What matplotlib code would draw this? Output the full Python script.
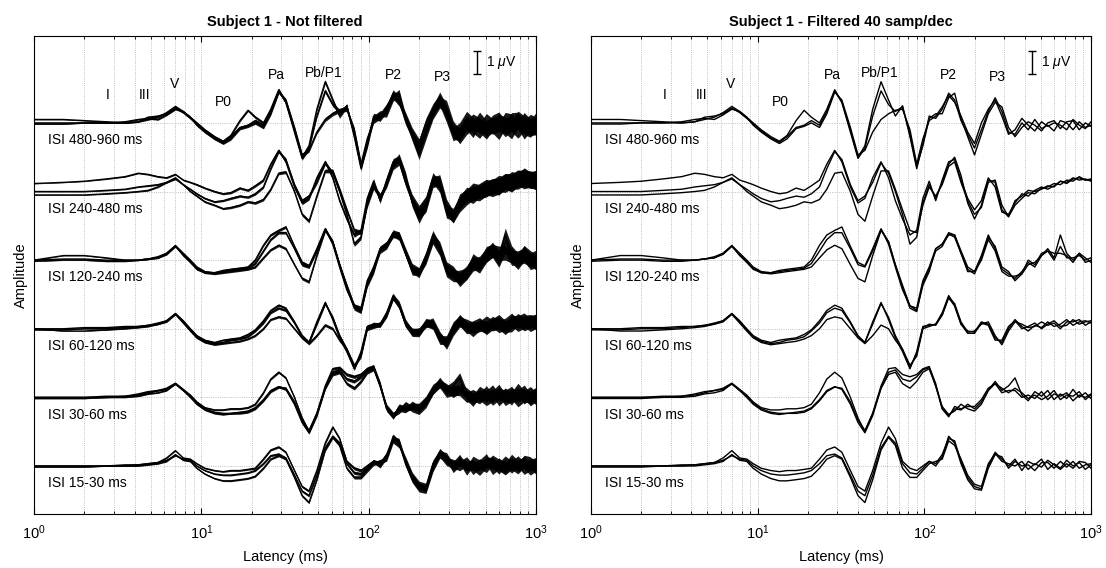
"""
Stacked evoked-response traces for six ISI conditions, raw and filtered
"""

import numpy as np
import matplotlib
matplotlib.use('Agg')
import matplotlib.pyplot as plt
from matplotlib.ticker import LogLocator, NullFormatter

plt.rcParams['font.family'] = ['Liberation Sans', 'DejaVu Sans']
plt.rcParams['mathtext.fontset'] = 'custom'
plt.rcParams['mathtext.rm'] = 'Liberation Sans'
plt.rcParams['mathtext.it'] = 'Liberation Sans:italic'

# Latency samples (ms) shared by every trace
LATENCY = [1.0, 1.5, 2.0, 2.7, 3.5, 4.2, 4.8, 5.5, 6.2, 7.0,
           7.8, 8.6, 9.4, 10.5, 12, 13.5, 15, 17, 19, 21,
           23.5, 26, 29, 32, 36, 40, 44, 49, 55, 61,
           67, 74, 82, 90, 98, 107, 117, 128, 140, 152,
           166, 182, 200, 220, 242, 266, 292, 320, 350, 385,
           420, 460, 505, 550, 600, 655, 715, 780, 850, 925,
           1000]

ISI_LABELS = ['ISI 480-960 ms', 'ISI 240-480 ms', 'ISI 120-240 ms',
              'ISI 60-120 ms', 'ISI 30-60 ms', 'ISI 15-30 ms']

# Amplitudes (uV) of the three overlaid responses per condition
ISI_480_960 = [
    [0.15, 0.15, 0.1, 0.05, 0.0, 0.05, 0.15, 0.25, 0.45, 0.72,
     0.5, 0.25, 0.0, -0.3, -0.6, -0.8, -0.55, 0.1, 0.55, 0.25,
     0.0, 0.6, 1.45, 0.9, -0.3, -1.5, -1.0, 0.6, 1.8, 1.0,
     0.3, 0.75, -0.6, -2.0, -0.9, 0.3, 0.2, 0.6, 1.3, 1.0,
     0.1, -0.5, -1.1, -0.3, 0.5, 1.1, 0.5, -0.4, -0.5, 0.0,
     -0.3, 0.15, -0.25, -0.1, -0.35, 0.1, 0.0, -0.3, 0.05, -0.2,
     -0.1],
    [0.0, 0.0, 0.0, 0.0, 0.0, 0.05, 0.25, 0.3, 0.4, 0.65,
     0.45, 0.2, -0.05, -0.35, -0.65, -0.85, -0.6, -0.2, -0.1, 0.1,
     -0.1, 0.5, 1.4, 0.9, -0.4, -1.55, -1.1, 0.3, 1.4, 0.8,
     0.5, 0.7, -0.5, -1.9, -1.0, 0.2, 0.4, 0.4, 1.1, 1.3,
     0.2, -0.6, -1.4, -0.5, 0.4, 0.9, 0.7, -0.2, -0.6, -0.2,
     0.05, -0.1, -0.35, 0.0, 0.1, -0.25, 0.05, 0.1, -0.3, 0.0,
     -0.15],
    [-0.05, -0.05, 0.0, 0.0, 0.05, 0.15, 0.2, 0.15, 0.35, 0.6,
     0.5, 0.25, -0.1, -0.4, -0.7, -0.9, -0.7, -0.25, -0.15, 0.0,
     -0.2, 0.4, 1.35, 1.0, -0.2, -1.4, -1.2, -0.4, 0.15, 0.4,
     0.55, 0.6, -0.3, -1.8, -0.7, 0.1, 0.3, 0.7, 1.2, 0.9,
     0.3, -0.4, -0.9, 0.0, 0.6, 1.0, 0.3, -0.5, -0.3, 0.2,
     -0.1, -0.35, 0.05, -0.15, 0.0, -0.1, -0.3, 0.15, -0.1, -0.25,
     0.05],
]

ISI_240_480 = [
    [0.35, 0.4, 0.45, 0.55, 0.65, 0.8, 0.75, 0.65, 0.6, 0.75,
     0.5, 0.4, 0.3, 0.15, 0.0, -0.1, -0.05, 0.15, 0.05, 0.25,
     0.5, 1.2, 1.8, 1.3, 0.2, -0.5, -0.3, 0.6, 1.3, 0.6,
     -0.4, -1.2, -1.9, -1.7, -0.3, 0.45, -0.4, 0.5, 1.3, 1.4,
     0.5, -0.3, -0.8, -0.4, 0.6, 0.2, -0.9, -1.0, -0.5, -0.1,
     -0.2, 0.05, 0.2, 0.1, 0.25, 0.45, 0.35, 0.55, 0.6, 0.5,
     0.55],
    [0.0, 0.0, 0.0, 0.05, 0.1, 0.2, 0.25, 0.3, 0.4, 0.55,
     0.3, 0.1, -0.1, -0.3, -0.45, -0.4, -0.3, -0.2, -0.25, -0.1,
     0.2, 1.0, 1.75, 1.4, 0.3, -0.4, -0.2, 0.4, 1.25, 0.8,
     0.0, -1.0, -2.3, -2.0, -0.5, 0.3, -0.3, 0.4, 1.2, 1.5,
     0.7, -0.5, -1.2, -0.6, 0.5, 0.4, -0.8, -1.1, -0.6, -0.3,
     -0.05, -0.1, 0.15, 0.2, 0.35, 0.3, 0.5, 0.45, 0.65, 0.5,
     0.5],
    [-0.15, -0.15, -0.15, -0.1, -0.05, 0.0, 0.05, 0.2, 0.4, 0.6,
     0.3, 0.0, -0.2, -0.45, -0.6, -0.75, -0.7, -0.6, -0.45, -0.5,
     -0.35, 0.1, 0.8, 0.85, 0.0, -1.0, -1.3, -0.2, 0.9, 0.9,
     0.1, -0.8, -1.7, -1.8, -0.6, 0.2, -0.2, 0.3, 1.1, 1.3,
     0.4, -0.4, -1.0, -0.7, 0.4, 0.5, -0.6, -1.1, -0.4, -0.2,
     0.05, 0.0, 0.1, 0.25, 0.2, 0.45, 0.4, 0.6, 0.5, 0.55,
     0.45],
]

ISI_120_240 = [
    [0.0, 0.2, 0.2, 0.1, 0.0, 0.0, 0.05, 0.15, 0.3, 0.64,
     0.3, 0.0, -0.3, -0.5, -0.55, -0.45, -0.4, -0.35, -0.3, 0.0,
     0.65, 1.1, 1.3, 1.45, 0.6, -0.1, -0.25, 0.5, 1.37, 0.7,
     -0.3, -1.3, -2.0, -2.1, -0.9, -0.3, 0.5, 0.7, 1.1, 1.1,
     0.4, -0.3, -0.5, 0.2, 1.1, 0.5, -0.4, -0.6, -0.8, -0.5,
     -0.1, -0.3, 0.2, 0.5, 0.1, 1.1, 0.3, 0.0, 0.3, -0.1,
     0.0],
    [0.0, 0.05, 0.05, 0.0, 0.0, 0.0, 0.05, 0.1, 0.25, 0.6,
     0.25, -0.05, -0.35, -0.55, -0.55, -0.5, -0.45, -0.4, -0.35, -0.15,
     0.4, 0.9, 1.2, 1.2, 0.5, -0.2, -0.3, 0.4, 1.35, 0.8,
     -0.2, -1.2, -2.1, -2.25, -1.0, -0.4, 0.4, 0.6, 1.15, 1.0,
     0.3, -0.4, -0.6, 0.1, 1.0, 0.6, -0.3, -0.5, -0.9, -0.6,
     0.0, -0.2, 0.3, 0.4, 0.0, 0.6, 0.1, 0.1, 0.2, 0.0,
     0.1],
    [-0.05, 0.0, 0.0, -0.05, -0.05, 0.0, 0.05, 0.1, 0.3, 0.62,
     0.2, -0.1, -0.4, -0.55, -0.6, -0.55, -0.5, -0.45, -0.4, -0.3,
     0.1, 0.45, 0.65, 0.5, -0.2, -0.8, -0.95, 0.2, 1.3, 0.8,
     -0.2, -1.1, -2.0, -2.2, -1.1, -0.5, 0.5, 0.7, 1.2, 1.1,
     0.3, -0.5, -0.5, 0.0, 0.9, 0.4, -0.5, -0.7, -0.7, -0.6,
     -0.2, -0.1, 0.2, 0.4, 0.3, 0.3, 0.2, -0.1, 0.3, 0.1,
     -0.1],
]

ISI_60_120 = [
    [0.0, 0.0, 0.05, 0.05, 0.1, 0.1, 0.15, 0.2, 0.35, 0.67,
     0.35, 0.0, -0.3, -0.5, -0.6, -0.5, -0.45, -0.4, -0.25, -0.05,
     0.35, 0.8, 1.03, 0.9, 0.3, -0.3, -0.6, 0.3, 1.15, 0.4,
     -0.4, -1.0, -1.75, -1.0, 0.1, 0.15, 0.2, 0.7, 1.45, 1.0,
     0.2, -0.1, -0.15, 0.3, 0.2, -0.4, -0.6, 0.0, 0.4, 0.1,
     -0.1, 0.15, 0.05, 0.3, 0.1, 0.2, 0.4, 0.15, 0.3, 0.35,
     0.25],
    [-0.05, -0.05, 0.0, 0.0, 0.05, 0.1, 0.15, 0.25, 0.35, 0.65,
     0.3, -0.05, -0.35, -0.55, -0.65, -0.6, -0.5, -0.45, -0.35, -0.1,
     0.25, 0.7, 0.9, 0.8, 0.25, -0.35, -0.6, 0.2, 1.1, 0.5,
     -0.3, -0.9, -1.7, -1.1, 0.05, 0.2, 0.15, 0.6, 1.4, 1.1,
     0.3, -0.15, -0.1, 0.2, 0.3, -0.3, -0.7, -0.1, 0.3, 0.2,
     0.05, 0.1, 0.3, 0.15, 0.25, 0.0, 0.3, 0.3, 0.4, 0.15,
     0.3],
    [0.0, -0.1, -0.1, -0.05, 0.0, 0.05, 0.1, 0.2, 0.3, 0.63,
     0.25, -0.1, -0.4, -0.6, -0.7, -0.65, -0.6, -0.55, -0.45, -0.3,
     0.0, 0.4, 0.52, 0.45, 0.0, -0.4, -0.65, -0.3, 0.16, 0.0,
     -0.5, -0.9, -1.6, -1.2, 0.0, 0.1, 0.2, 0.6, 1.35, 1.0,
     0.2, -0.2, -0.2, 0.25, 0.15, -0.5, -0.5, 0.1, 0.35, 0.0,
     0.1, 0.25, 0.0, 0.2, 0.35, 0.1, 0.15, 0.4, 0.2, 0.3,
     0.35],
]

ISI_30_60 = [
    [0.0, 0.0, 0.0, 0.05, 0.05, 0.15, 0.25, 0.3, 0.4, 0.62,
     0.35, 0.1, -0.2, -0.45, -0.55, -0.55, -0.5, -0.5, -0.45, -0.3,
     0.2, 0.8, 1.1, 0.85, 0.0, -0.9, -1.5, -0.7, 0.5, 1.25,
     1.3, 1.0, 0.9, 1.0, 1.25, 1.35, 0.6, -0.5, -0.8, -0.5,
     -0.55, -0.3, -0.5, -0.2, 0.3, 0.7, 0.3, 0.5, 0.85, 0.1,
     -0.15, 0.25, 0.05, 0.3, -0.1, 0.15, -0.05, 0.35, 0.0, 0.2,
     -0.05],
    [0.0, 0.0, 0.0, 0.0, 0.05, 0.1, 0.2, 0.3, 0.35, 0.58,
     0.3, 0.0, -0.3, -0.55, -0.7, -0.75, -0.7, -0.65, -0.6, -0.45,
     -0.1, 0.3, 0.47, 0.35, -0.3, -1.1, -1.55, -0.8, 0.4, 1.1,
     1.2, 0.8, 0.7, 0.9, 1.2, 1.3, 0.5, -0.5, -0.85, -0.4,
     -0.5, -0.4, -0.4, -0.1, 0.4, 0.6, 0.2, 0.3, 0.3, 0.0,
     0.1, -0.05, 0.25, -0.1, 0.15, 0.05, 0.2, -0.15, 0.1, 0.0,
     0.15],
    [-0.05, -0.05, -0.05, 0.0, 0.0, 0.05, 0.15, 0.2, 0.3, 0.6,
     0.3, 0.05, -0.25, -0.5, -0.65, -0.7, -0.7, -0.7, -0.65, -0.5,
     -0.15, 0.25, 0.45, 0.4, -0.2, -1.0, -1.45, -0.7, 0.4, 1.0,
     1.1, 0.6, 0.4, 0.7, 1.1, 1.25, 0.5, -0.4, -0.75, -0.6,
     -0.3, -0.5, -0.6, -0.3, 0.3, 0.6, 0.4, 0.2, 0.4, 0.2,
     -0.05, 0.1, -0.1, 0.05, 0.3, -0.1, 0.1, 0.05, 0.25, -0.1,
     0.1],
]

ISI_15_30 = [
    [0.0, 0.0, 0.0, 0.0, 0.05, 0.05, 0.1, 0.15, 0.35, 0.67,
     0.35, 0.3, 0.1, -0.1, -0.2, -0.25, -0.2, -0.2, -0.15, -0.1,
     0.3, 0.7, 0.83, 0.6, -0.2, -0.9, -1.1, -0.2, 1.0, 1.7,
     1.2, 0.2, -0.1, -0.2, 0.0, 0.2, 0.1, 0.5, 1.2, 1.1,
     0.2, -0.5, -0.9, -1.0, 0.0, 0.6, 0.3, 0.0, 0.3, -0.2,
     0.2, 0.05, 0.3, -0.15, 0.1, -0.1, 0.25, 0.0, 0.15, -0.15,
     0.05],
    [0.0, 0.0, 0.0, 0.0, 0.0, 0.05, 0.1, 0.15, 0.25, 0.45,
     0.3, 0.25, 0.0, -0.2, -0.35, -0.4, -0.4, -0.35, -0.3, -0.2,
     0.1, 0.45, 0.52, 0.35, -0.4, -1.1, -1.3, -0.4, 0.8, 1.3,
     1.0, 0.1, -0.3, -0.35, -0.1, 0.2, 0.0, 0.4, 1.3, 1.0,
     0.1, -0.6, -1.0, -1.06, -0.1, 0.5, 0.4, -0.1, 0.2, 0.0,
     0.05, -0.2, 0.15, 0.15, -0.1, 0.2, -0.05, 0.2, -0.1, 0.05,
     0.1],
    [-0.05, -0.05, -0.05, 0.0, 0.0, 0.0, 0.05, 0.1, 0.2, 0.5,
     0.25, 0.2, -0.1, -0.35, -0.55, -0.65, -0.65, -0.6, -0.55, -0.45,
     -0.1, 0.3, 0.45, 0.3, -0.5, -1.3, -1.6, -0.6, 0.7, 1.25,
     0.9, -0.1, -0.5, -0.5, -0.2, 0.1, 0.2, 0.3, 1.1, 0.9,
     0.3, -0.4, -0.8, -0.9, 0.1, 0.55, 0.2, 0.1, 0.0, 0.2,
     -0.15, 0.1, -0.05, 0.25, 0.05, -0.15, 0.1, -0.1, 0.2, 0.15,
     -0.1],
]

TRACES = [ISI_480_960, ISI_240_480, ISI_120_240, ISI_60_120, ISI_30_60, ISI_15_30]

# Half-width (uV) of the residual noise in the unfiltered averages
NOISE_ENVELOPE = [0.02, 0.02, 0.02, 0.03, 0.03, 0.03, 0.04, 0.04, 0.04, 0.04,
                  0.04, 0.04, 0.05, 0.05, 0.05, 0.05, 0.06, 0.06, 0.06, 0.07,
                  0.07, 0.07, 0.08, 0.08, 0.08, 0.09, 0.09, 0.09, 0.10, 0.10,
                  0.11, 0.11, 0.12, 0.12, 0.13, 0.14, 0.15, 0.16, 0.17, 0.18,
                  0.19, 0.21, 0.23, 0.24, 0.27, 0.28, 0.31, 0.32, 0.35, 0.34,
                  0.38, 0.36, 0.40, 0.38, 0.42, 0.40, 0.44, 0.41, 0.45, 0.42,
                  0.45]
NOISE_SCALE = [0.9, 0.85, 0.75, 0.65, 0.65, 0.6]

# Peak names and their latencies (ms)
PEAK_NAMES = ['I', 'III', 'V', 'P0', 'Pa', 'Pb/P1', 'P2', 'P3']
PEAK_LATENCY = [2.75, 4.6, 6.9, 13.6, 28, 54, 140, 275]

SPACING = 3.0  # uV between stacked traces


def draw_panel(ax, title, noisy):
    """ Draws the six stacked conditions in one axes"""

    n = len(TRACES)
    for k, lines in enumerate(TRACES):
        offset = SPACING * (n - 1 - k)
        arr = np.array(lines) + offset

        for line in arr:
            # Unfiltered averages carry a dense band of noise around each line
            if noisy:
                w = np.array(NOISE_ENVELOPE) * NOISE_SCALE[k]
                ax.fill_between(LATENCY, line - w, line + w,
                                color='k', lw=0, alpha=0.9, zorder=2)
            ax.plot(LATENCY, line, color='k', lw=1.0, zorder=3)

        ax.text(1.22, offset - 0.75, ISI_LABELS[k], fontsize=10,
                ha='left', va='center', zorder=4)

    # Peak labels above the top trace
    label_y = [16.2, 16.2, 16.7, 15.9, 17.1, 17.2, 17.1, 17.0]
    for name, lat, y in zip(PEAK_NAMES, PEAK_LATENCY, label_y):
        ax.text(lat, y, name, fontsize=10, ha='center', va='center')

    # 1 uV scale bar
    ax.errorbar([445], [17.64], yerr=[0.5], color='k', lw=1.0,
                capsize=3, capthick=1.0)
    ax.text(500, 17.64, r'1 $\mu$V', fontsize=10, ha='left', va='center')

    ax.set_xscale('log')
    ax.set_xlim(1, 1000)
    ax.set_ylim(-2.1, 18.8)
    ax.set_yticks([SPACING * i for i in range(n)])
    ax.set_yticklabels([])
    ax.xaxis.set_major_locator(LogLocator(base=10, numticks=10))
    ax.xaxis.set_minor_locator(LogLocator(base=10, subs=np.arange(2, 10), numticks=20))
    ax.xaxis.set_minor_formatter(NullFormatter())
    ax.tick_params(axis='x', which='major', direction='in', top=True,
                   length=4, labelsize=10.5, pad=7)
    ax.tick_params(axis='x', which='minor', direction='in', top=True, length=2)
    ax.tick_params(axis='y', length=0)
    ax.grid(True, which='both', axis='x', ls=':', color='#aaaaaa', lw=0.6)
    ax.grid(True, which='major', axis='y', ls=':', color='#aaaaaa', lw=0.6)
    for s in ax.spines.values():
        s.set_linewidth(0.8)

    ax.set_title(title, fontsize=10.5, fontweight='bold', pad=7)
    ax.set_xlabel('Latency (ms)', fontsize=10.5)
    ax.set_ylabel('Amplitude', fontsize=10.5)
    ax.xaxis.set_label_coords(0.5, -0.075)
    ax.yaxis.set_label_coords(-0.012, 0.5)


fig = plt.figure(figsize=(11.06, 5.68), dpi=100)
ax1 = fig.add_axes([34 / 1106, 54 / 568, 502 / 1106, 478 / 568])
ax2 = fig.add_axes([591 / 1106, 54 / 568, 500 / 1106, 478 / 568])

draw_panel(ax1, 'Subject 1 - Not filtered', noisy=True)
draw_panel(ax2, 'Subject 1 - Filtered 40 samp/dec', noisy=False)

fig.savefig('out.png', dpi=100)
